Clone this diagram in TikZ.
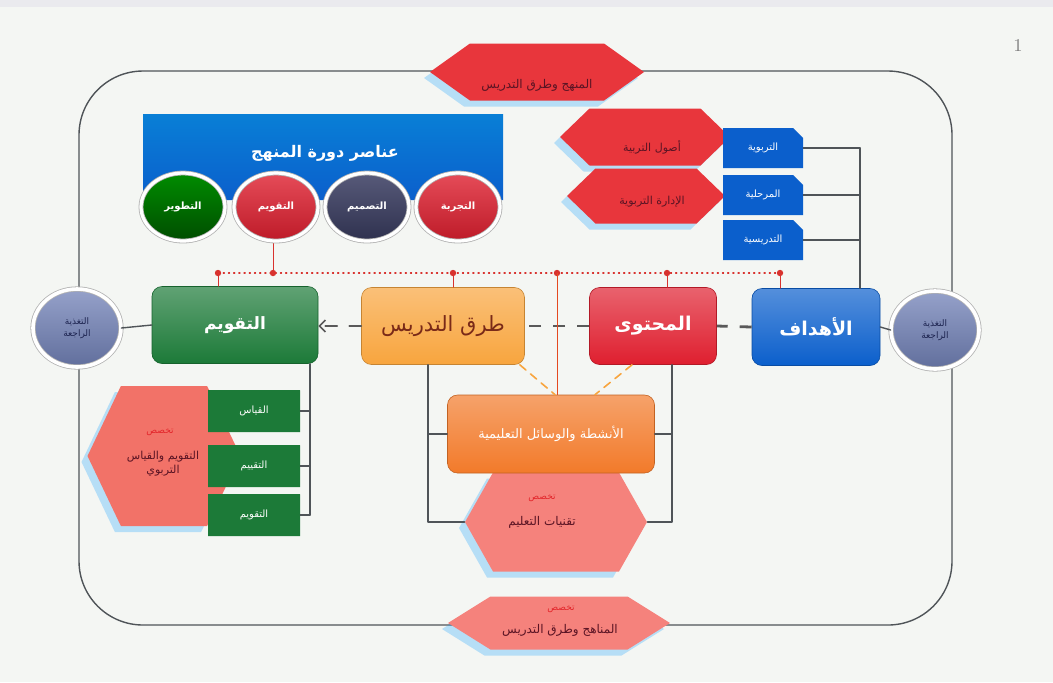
\documentclass[tikz,border=0pt]{standalone}
\usepackage{fontspec}
\TeXXeTstate=1
\newfontfamily\arabicfont[Script=Arabic]{DejaVu Sans}
\usetikzlibrary{shapes.symbols,shapes.misc,shapes.geometric,arrows.meta,shadows}
\newcommand\ar[1]{{\arabicfont\beginR #1\endR}}
\definecolor{frameline}{HTML}{4F5458}
\definecolor{hexred}{HTML}{E8363C}
\definecolor{salmon}{HTML}{F27268}
\definecolor{pinksalmon}{HTML}{F5827C}
\definecolor{hextext}{HTML}{5A1424}
\definecolor{tagred}{HTML}{E3262B}
\definecolor{boxblue}{HTML}{0B5FCC}
\definecolor{boxgreen}{HTML}{1C7A38}
\definecolor{boxred}{HTML}{DF1F2F}
\definecolor{boxorange}{HTML}{F8A53E}
\definecolor{actorange}{HTML}{F27A2A}
\definecolor{slate}{HTML}{3A3D62}
\definecolor{fbblue}{HTML}{7282B8}
\definecolor{fbtext}{HTML}{1D2450}
\definecolor{dotred}{HTML}{D8322E}
\definecolor{methtext}{HTML}{7A2A18}
\definecolor{bgwhite}{HTML}{F4F6F3}
\begin{document}
\begin{tikzpicture}[x=0.5pt, y=-0.5pt, line join=round, line cap=round,
  link/.style={draw=frameline, line width=.7pt},
  flow/.style={draw=gray!70!black, line width=1.4pt, dash pattern=on 6pt off 6pt, line cap=butt},
  feed/.style={draw=boxorange, line width=.8pt, dash pattern=on 4pt off 3pt},
  hexa/.style={signal, signal to=west and east, inner sep=0pt, fill=#1,
    drop shadow={shadow xshift=-3pt, shadow yshift=-3pt, fill=blue!40!cyan, opacity=.25}},
  hextxt/.style={text=hextext, font=\fontsize{6}{7.5}\selectfont, align=center, inner sep=1pt},
  tag/.style={text=tagred, font=\fontsize{4.5}{5}\selectfont, inner sep=1pt},
  mainbox/.style={rounded corners=5pt, minimum height=38.5pt, inner sep=2pt,
    top color=#1!70!white, bottom color=#1, draw=#1!80!black, line width=.3pt,
    text=white, font=\fontsize{9.5}{11}\selectfont\bfseries},
  circ/.style={ellipse, minimum width=42pt, minimum height=34pt, inner sep=0pt,
    draw=gray!60, double=white, double distance=1.6pt, line width=.4pt,
    text=white, font=\fontsize{5}{6}\selectfont\bfseries},
  smallbox/.style={chamfered rectangle, chamfered rectangle corners=north east,
    chamfered rectangle sep=2.5pt, minimum width=40pt, minimum height=20pt,
    inner sep=0pt, fill=#1, text=white, font=\fontsize{5}{6}\selectfont},
  fback/.style={ellipse, minimum width=44pt, minimum height=39pt, inner sep=0pt,
    top color=fbblue!75!white, bottom color=fbblue!85!black, draw=gray!60,
    double=white, double distance=1.8pt, line width=.4pt, text=fbtext,
    align=center, font=\fontsize{4.5}{6}\selectfont},
]
\useasboundingbox (0,0) rectangle (1053,682);
\fill[bgwhite] (0,0) rectangle (1053,682);
\fill[blue!10!gray!15] (0,0) rectangle (1053,7);
\node[text=gray, font=\small] (slideno) at (1018,45) {1};

% outer cycle
\draw[link, rounded corners=32pt] (79,71) rectangle (952,625);

\path
  (218,273) coordinate (d1)
  (273,273) coordinate (d2)
  (453,273) coordinate (d3)
  (557,273) coordinate (d4)
  (667,273) coordinate (d5)
  (780,273) coordinate (d6)
  (860,148) coordinate (goalbus)
  (428,0) coordinate (lbus)
  (672,0) coordinate (rbus)
  (310,0) coordinate (ebus)
  ;

% specialisations on the cycle
\node[hexa=hexred, minimum width=107pt, minimum height=28.5pt, signal pointer angle=71] (topspec) at (537,72) {};
\node[hextxt] (topspectxt) at (537,85) {\ar{المنهج وطرق التدريس}};
\node[hexa=pinksalmon, minimum width=111pt, minimum height=26.5pt, signal pointer angle=64] (botspec) at (559,623) {};
\node[tag] (bottag) at (561,609) {\ar{تخصص}};
\node[hextxt] (botspectxt) at (560,630) {\ar{المناهج وطرق التدريس}};

% curriculum cycle elements
\node[chamfered rectangle, chamfered rectangle corners=north east, chamfered rectangle sep=6pt,
  minimum width=180pt, minimum height=43pt, inner sep=0pt, top color=boxblue!80!cyan, bottom color=boxblue]
  (cycle) at (323,157) {};
\node[text=white, font=\fontsize{8}{10}\selectfont\bfseries] (cycletxt) at (325,153) {\ar{عناصر دورة المنهج}};

\draw[dotred, line width=.6pt, dotted] (d1) -- (d6);
\draw[dotred, line width=.5pt] (d2) -- (d2 |- 0,240);

\foreach \n/\x/\ct/\cb/\t in {cdev/183/green!55!black/green!30!black/التطوير,
    ceval/276/boxred!80!white/boxred!85!black/التقويم,
    cdes/367/slate!85!white/slate!80!black/التصميم,
    ctry/458/boxred!80!white/boxred!85!black/التجربة}
  \node[circ, top color=\ct, bottom color=\cb] (\n) at (\x,207) {\ar{\t}};

% foundations and goal levels
\node[hexa=hexred, minimum width=85pt, minimum height=28.5pt, signal pointer angle=88] (usul) at (645,137) {};
\node[hexa=hexred, minimum width=79pt, minimum height=27.5pt, signal pointer angle=88] (idara) at (646,196) {};
\node[hextxt, font=\fontsize{5.5}{7}\selectfont] (usultxt) at (652,147) {\ar{أصول التربية}};
\node[hextxt, font=\fontsize{5.5}{7}\selectfont] (idaratxt) at (652,202) {\ar{الإدارة التربوية}};

\foreach \n/\y/\t in {gedu/148/التربوية, gstage/195/المرحلية, gteach/240/التدريسية}{
  \node[smallbox=boxblue] (\n) at (763,\y) {\ar{\t}};
  \draw[link] (\n.east) -- (\n.east -| goalbus);
}

% main row
\node[mainbox=boxgreen, minimum width=83pt, font=\fontsize{8.5}{10}\selectfont\bfseries] (eval) at (235,325) {\ar{التقويم}};
\node[mainbox=boxorange, minimum width=81.5pt, text=methtext, font=\fontsize{10.5}{12}\selectfont] (methods) at (443,326) {\ar{طرق التدريس}};
\node[mainbox=boxred, minimum width=63.5pt] (content) at (653,326) {\ar{المحتوى}};
\node[mainbox=boxblue, minimum width=64pt] (goals) at (816,327) {\ar{الأهداف}};

\draw[link] (goalbus) -- (goalbus |- goals.north);
\foreach \d/\b in {d1/eval, d3/methods, d5/content, d6/goals}
  \draw[dotred, line width=.5pt] (\d) -- (\d |- \b.north);
\foreach \d in {d1,d2,d3,d4,d5,d6}
  \fill[dotred] (\d) circle (1.6pt);

\draw[flow] (goals.west) -- (content.east);
\draw[flow] (content.west) -- (methods.east);
\draw[draw=gray!70!black, line width=.8pt, dash pattern=on 6pt off 6pt, -{Straight Barb[length=3pt]}]
  (methods.west) -- (methods.west -| eval.east);

\node[fback] (fbl) at (77,328) {\ar{التغذية}\\\ar{الراجعة}};
\node[fback] (fbr) at (935,330) {\ar{التغذية}\\\ar{الراجعة}};
\draw[link] (fbl.east) -- (eval.west);
\draw[link] (goals.east) -- (fbr.west);

% activities and media
\node[hexa=pinksalmon, minimum width=91pt, minimum height=49.5pt, signal pointer angle=121] (techspec) at (556,522) {};
\node[tag] (techtag) at (542,498) {\ar{تخصص}};
\node[hextxt] (techtxt) at (542,522) {\ar{تقنيات التعليم}};

\draw[link] (lbus |- methods.south) -- (lbus |- techspec.west) -- (techspec.west);
\draw[link] (rbus |- content.south) -- (rbus |- techspec.east) -- (techspec.east);
\draw[dotred!70!orange, line width=.5pt] (d4) -- (d4 |- 0,395);

\node[mainbox=actorange, minimum width=103.5pt, minimum height=39pt, font=\fontsize{6.5}{8}\selectfont] (activ) at (551,434) {\ar{الأنشطة والوسائل التعليمية}};
\draw[feed] ([xshift=-2.5pt]methods.south east) -- ([xshift=2pt]activ.north);
\draw[feed] ([xshift=-10.5pt]content.south) -- ([xshift=22pt]activ.north);
\draw[link] (lbus |- activ.west) -- (activ.west);
\draw[link] (activ.east) -- (rbus |- activ.east);

% evaluation and measurement
\node[hexa=salmon, minimum width=76.5pt, minimum height=70pt, signal pointer angle=129] (measspec) at (164,456) {};
\node[tag] (meastag) at (160,432) {\ar{تخصص}};
\node[hextxt, font=\fontsize{5.5}{7}\selectfont] (measspectxt) at (163,464) {\ar{التقويم والقياس}\\\ar{التربوي}};

\foreach \n/\y/\t in {meas/411/القياس, asse/466/التقييم, evl/515/التقويم}{
  \node[smallbox=boxgreen, chamfered rectangle sep=.1pt, minimum width=46pt, minimum height=21pt] (\n) at (254,\y) {\ar{\t}};
  \draw[link] (\n.east) -- (\n.east -| ebus);
}
\draw[link] (ebus |- eval.south) -- (ebus |- evl.east);
\end{tikzpicture}
\end{document}
